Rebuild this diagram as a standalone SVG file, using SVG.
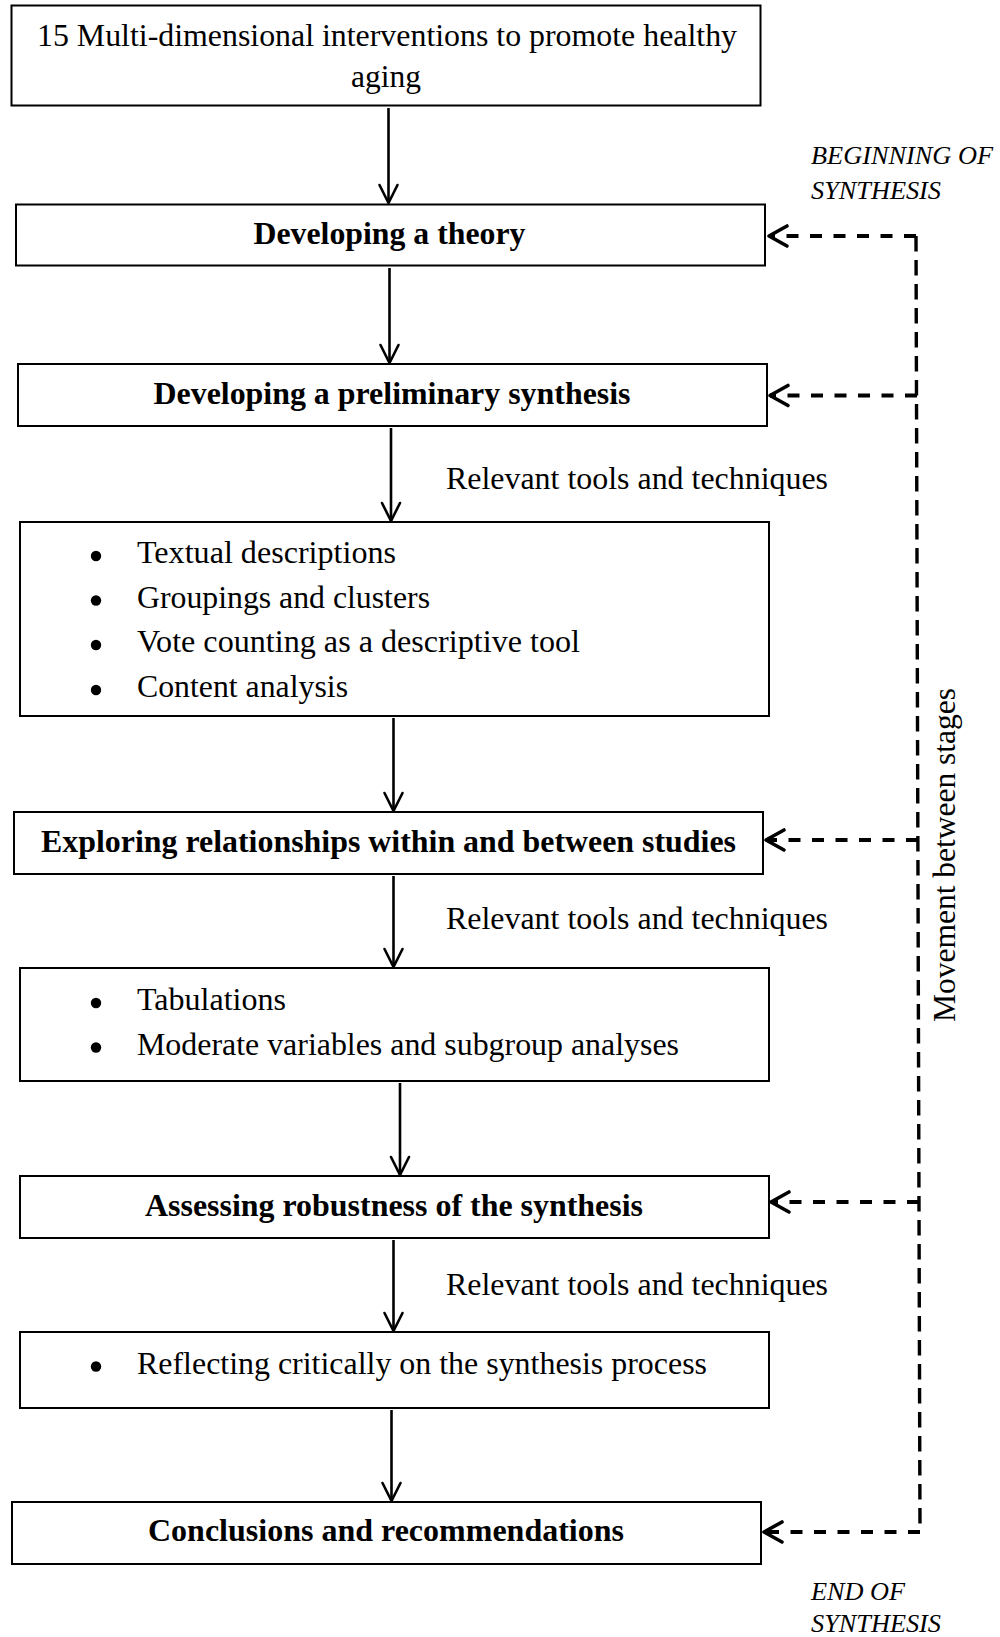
<svg xmlns="http://www.w3.org/2000/svg" width="1000" height="1637" viewBox="0 0 1000 1637">
  <style>
    .box { fill: #ffffff; stroke: #000000; stroke-width: 2; }
    .t { font-family: "Liberation Serif", "Times New Roman", serif; font-size: 32px; fill: #000000; }
    .b { font-weight: bold; }
    .it { font-style: italic; font-size: 26px; }
    .flow { fill: none; stroke: #000000; stroke-width: 2.6; }
    .dash { fill: none; stroke: #000000; stroke-width: 3.8; stroke-dasharray: 12 11.5; }
    .vdash { fill: none; stroke: #000000; stroke-width: 3.4; stroke-dasharray: 15.5 8.5; }
    .dot { fill: #000000; }
  </style>
  <defs>
    <marker id="head" markerUnits="userSpaceOnUse" markerWidth="40" markerHeight="40" refX="0" refY="0" viewBox="-30 -20 40 40" orient="auto" overflow="visible">
      <path d="M-18,-9 L0,0 L-18,9" fill="none" stroke="#000000" stroke-width="2.6" stroke-linejoin="round" stroke-linecap="round"/>
    </marker>
    <marker id="dhead" markerUnits="userSpaceOnUse" markerWidth="40" markerHeight="40" refX="0" refY="0" viewBox="-30 -20 40 40" orient="auto" overflow="visible">
      <path d="M-18,-10 L0,0 L-18,10" fill="none" stroke="#000000" stroke-width="3.6" stroke-dasharray="none" stroke-linejoin="round" stroke-linecap="round"/>
    </marker>
  </defs>

  <rect width="1000" height="1637" fill="#ffffff"/>

  <!-- connectors -->
  <g id="connectors">
    <path class="flow" d="M388.5,108 V203" marker-end="url(#head)"/>
    <path class="flow" d="M389.5,268 V363" marker-end="url(#head)"/>
    <path class="flow" d="M391,428 V521" marker-end="url(#head)"/>
    <path class="flow" d="M393.5,718 V811" marker-end="url(#head)"/>
    <path class="flow" d="M393.5,876 V967" marker-end="url(#head)"/>
    <path class="flow" d="M400,1083 V1175" marker-end="url(#head)"/>
    <path class="flow" d="M393.5,1240 V1331" marker-end="url(#head)"/>
    <path class="flow" d="M391.5,1410 V1501" marker-end="url(#head)"/>

    <!-- feedback loop between stages -->
    <path class="vdash" d="M916,236 L920,1532"/>
    <path class="dash" d="M916,236 H769" marker-end="url(#dhead)"/>
    <path class="dash" d="M917,395.5 H770" marker-end="url(#dhead)"/>
    <path class="dash" d="M918,840 H766" marker-end="url(#dhead)"/>
    <path class="dash" d="M919,1202 H771" marker-end="url(#dhead)"/>
    <path class="dash" d="M920,1532 H764" marker-end="url(#dhead)"/>
  </g>

  <!-- nodes -->
  <g id="n-interventions">
    <rect class="box" x="11.5" y="5.5" width="749" height="100"/>
    <text class="t" x="387" y="45.5" text-anchor="middle" textLength="700" lengthAdjust="spacingAndGlyphs">15 Multi-dimensional interventions to promote healthy</text>
    <text class="t" x="386" y="87" text-anchor="middle" textLength="70" lengthAdjust="spacingAndGlyphs">aging</text>
  </g>

  <g id="n-theory">
    <rect class="box" x="16" y="204.5" width="749" height="61"/>
    <text class="t b" x="389.5" y="244" text-anchor="middle" textLength="272" lengthAdjust="spacingAndGlyphs">Developing a theory</text>
  </g>

  <g id="n-preliminary">
    <rect class="box" x="18" y="364" width="749" height="62"/>
    <text class="t b" x="392" y="403.5" text-anchor="middle" textLength="477" lengthAdjust="spacingAndGlyphs">Developing a preliminary synthesis</text>
  </g>

  <g id="label-tools-1">
    <text class="t" x="446" y="489" textLength="382" lengthAdjust="spacingAndGlyphs">Relevant tools and techniques</text>
  </g>

  <g id="n-preliminary-tools">
    <rect class="box" x="20" y="522" width="749" height="194"/>
    <circle class="dot" cx="96" cy="556" r="5.2"/>
    <text class="t" x="137" y="563" textLength="259" lengthAdjust="spacingAndGlyphs">Textual descriptions</text>
    <circle class="dot" cx="96" cy="600.5" r="5.2"/>
    <text class="t" x="137" y="607.5" textLength="293" lengthAdjust="spacingAndGlyphs">Groupings and clusters</text>
    <circle class="dot" cx="96" cy="645" r="5.2"/>
    <text class="t" x="137" y="652" textLength="443" lengthAdjust="spacingAndGlyphs">Vote counting as a descriptive tool</text>
    <circle class="dot" cx="96" cy="690" r="5.2"/>
    <text class="t" x="137" y="697" textLength="211" lengthAdjust="spacingAndGlyphs">Content analysis</text>
  </g>

  <g id="n-exploring">
    <rect class="box" x="14" y="812" width="749" height="62"/>
    <text class="t b" x="388.5" y="852" text-anchor="middle" textLength="695" lengthAdjust="spacingAndGlyphs">Exploring relationships within and between studies</text>
  </g>

  <g id="label-tools-2">
    <text class="t" x="446" y="929" textLength="382" lengthAdjust="spacingAndGlyphs">Relevant tools and techniques</text>
  </g>

  <g id="n-exploring-tools">
    <rect class="box" x="20" y="968" width="749" height="113"/>
    <circle class="dot" cx="96" cy="1003" r="5.2"/>
    <text class="t" x="137" y="1010" textLength="149" lengthAdjust="spacingAndGlyphs">Tabulations</text>
    <circle class="dot" cx="96" cy="1047.5" r="5.2"/>
    <text class="t" x="137" y="1054.5" textLength="542" lengthAdjust="spacingAndGlyphs">Moderate variables and subgroup analyses</text>
  </g>

  <g id="n-robustness">
    <rect class="box" x="20" y="1176" width="749" height="62"/>
    <text class="t b" x="394" y="1216" text-anchor="middle" textLength="498" lengthAdjust="spacingAndGlyphs">Assessing robustness of the synthesis</text>
  </g>

  <g id="label-tools-3">
    <text class="t" x="446" y="1295" textLength="382" lengthAdjust="spacingAndGlyphs">Relevant tools and techniques</text>
  </g>

  <g id="n-robustness-tools">
    <rect class="box" x="20" y="1332" width="749" height="76"/>
    <circle class="dot" cx="96" cy="1366.5" r="5.2"/>
    <text class="t" x="137" y="1373.5" textLength="570" lengthAdjust="spacingAndGlyphs">Reflecting critically on the synthesis process</text>
  </g>

  <g id="n-conclusions">
    <rect class="box" x="12" y="1502" width="749" height="62"/>
    <text class="t b" x="386" y="1541" text-anchor="middle" textLength="476" lengthAdjust="spacingAndGlyphs">Conclusions and recommendations</text>
  </g>

  <!-- side annotations -->
  <g id="label-beginning">
    <text class="t it" x="811" y="164" textLength="182" lengthAdjust="spacingAndGlyphs">BEGINNING OF</text>
    <text class="t it" x="811" y="199" textLength="130" lengthAdjust="spacingAndGlyphs">SYNTHESIS</text>
  </g>

  <g id="label-end">
    <text class="t it" x="811" y="1600" textLength="94" lengthAdjust="spacingAndGlyphs">END OF</text>
    <text class="t it" x="811" y="1631.5" textLength="130" lengthAdjust="spacingAndGlyphs">SYNTHESIS</text>
  </g>

  <g id="label-movement">
    <text class="t" transform="translate(955,1022) rotate(-90)" x="0" y="0" textLength="334" lengthAdjust="spacingAndGlyphs">Movement between stages</text>
  </g>
</svg>
